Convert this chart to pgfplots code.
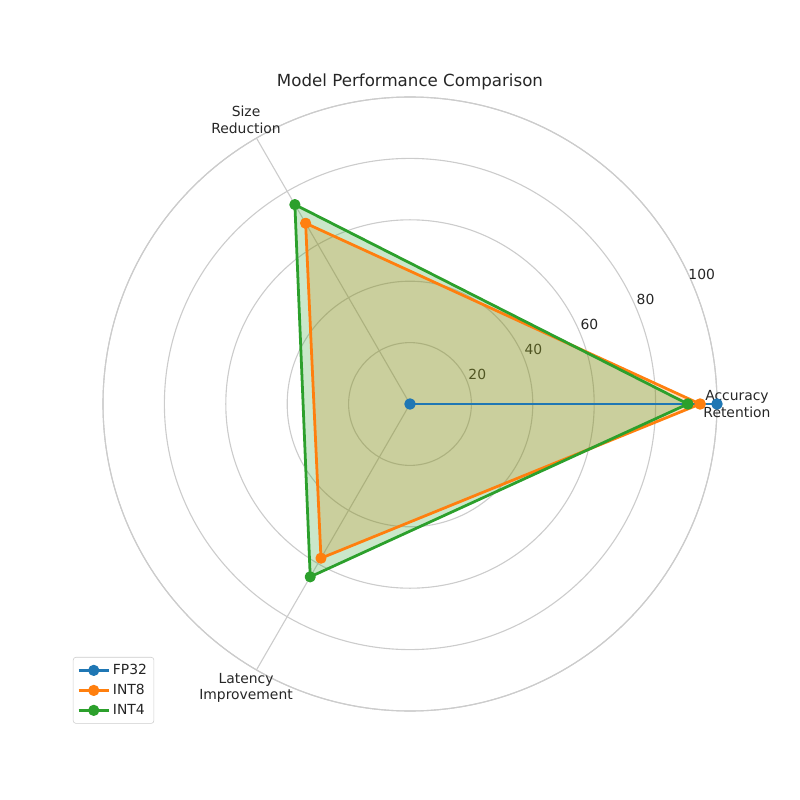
\documentclass[border=0pt]{standalone}
\usepackage{fontspec}
\setmainfont{DejaVu Sans}
\usepackage{pgfplots}
\pgfplotsset{compat=1.18}
\usepgfplotslibrary{polar}
\definecolor{mplblue}{HTML}{1F77B4}
\definecolor{mplorange}{HTML}{FF7F0E}
\definecolor{mplgreen}{HTML}{2CA02C}
\definecolor{gridgray}{HTML}{CCCCCC}
\definecolor{txt}{HTML}{262626}

\begin{document}
\begin{tikzpicture}
\begin{polaraxis}[
  width=442.08pt, height=442.08pt, scale only axis,
  ymin=0, ymax=100,
  xtick={0,120,240}, xticklabels={},
  ytick={20,40,60,80,100}, yticklabels={},
  major tick length=0pt,
  grid=major, major grid style={gridgray, line width=0.8pt},
  axis line style={gridgray, line width=0.8pt},
  clip=false,
  legend style={at={(-0.049,0.088)}, anchor=north west, draw=gridgray,
    rounded corners=2pt, font=\fontsize{10}{12}\selectfont, text=txt,
    row sep=1.5pt, inner sep=3pt},
  legend cell align=left,
  legend image code/.code={\draw[mark repeat=2,mark phase=2,#1] plot coordinates {(0cm,0cm)(0.38cm,0cm)(0.76cm,0cm)};},
]
\coordinate (O) at (axis cs:0,0);
% radial labels
\foreach \v in {20,40,60,80,100} {
  \edef\tmp{\noexpand\node[txt, font=\noexpand\fontsize{10}{12}\noexpand\selectfont] at (axis cs:24,\v+4) {\v};}
  \tmp
}
\node[txt, align=center, font=\fontsize{10}{12}\selectfont] at (axis cs:0,106.5) {Accuracy\\Retention};
\node[txt, align=center, font=\fontsize{10}{12}\selectfont] at (axis cs:120,106.8) {Size\\Reduction};
\node[txt, align=center, font=\fontsize{10}{12}\selectfont] at (axis cs:240,106.8) {Latency\\Improvement};
\node[txt, font=\fontsize{12}{14}\selectfont] at (axis cs:90,104.9) {Model Performance Comparison};

% fills below the lines
\addplot[fill=mplblue, fill opacity=0.25, draw=none, forget plot] coordinates {(0,100)(120,0)(240,0)(360,100)};
\addplot[fill=mplorange, fill opacity=0.25, draw=none, forget plot] coordinates {(0,94.5)(120,68)(240,58)(360,94.5)};
\addplot[fill=mplgreen, fill opacity=0.25, draw=none, forget plot] coordinates {(0,90.5)(120,75)(240,65)(360,90.5)};

\addplot[mplblue, line width=2pt, mark=*, mark size=3pt, line join=round] coordinates {(0,100)(120,0)(240,0)(360,100)};
\addlegendentry{FP32}
\addplot[mplorange, line width=2pt, mark=*, mark size=3pt, line join=round] coordinates {(0,94.5)(120,68)(240,58)(360,94.5)};
\addlegendentry{INT8}
\addplot[mplgreen, line width=2pt, mark=*, mark size=3pt, line join=round] coordinates {(0,90.5)(120,75)(240,65)(360,90.5)};
\addlegendentry{INT4}
\end{polaraxis}
\path (O) ++(-295.2pt,-285.12pt) rectangle ++(576pt,576pt);
\end{tikzpicture}
\end{document}
